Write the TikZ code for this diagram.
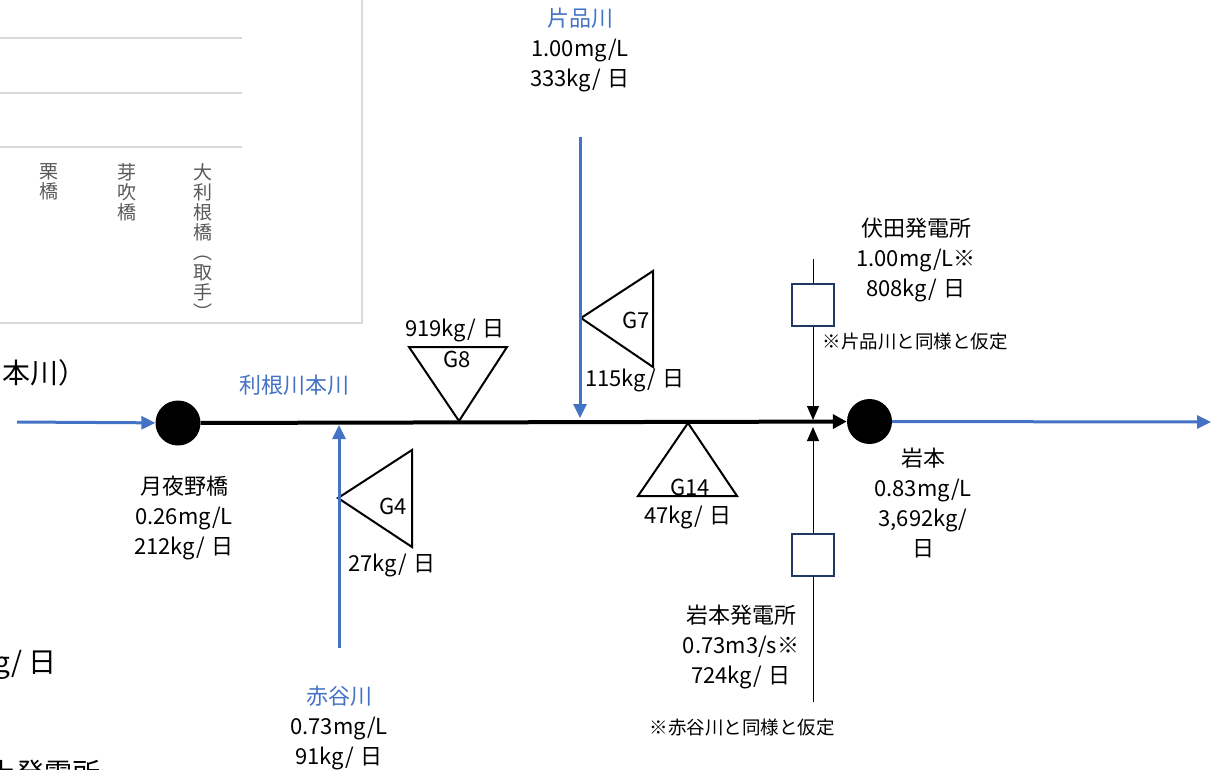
\documentclass[tikz,border=0pt]{standalone}
\usepackage{fontspec}
\setmainfont{Noto Sans CJK JP}
\usetikzlibrary{arrows.meta}
\definecolor{riverblue}{HTML}{4472C4}
\definecolor{boxnavy}{HTML}{1F3864}
\definecolor{tblgray}{HTML}{D9D9D9}
\definecolor{txtgray}{HTML}{595959}
\newcommand{\kgd}{kg/\hspace{0.3em}日}
\begin{document}
\begin{tikzpicture}[x=1pt,y=-1pt,
  lbl/.style={font=\fontsize{22}{30}\selectfont, align=center, inner sep=0pt},
  note/.style={font=\fontsize{18.5}{20}\selectfont, inner sep=0pt},
  big/.style={font=\fontsize{28}{30}\selectfont, inner sep=0pt},
  vtext/.style={font=\fontsize{19}{20}\selectfont, text=txtgray, align=center, inner sep=0pt, anchor=north},
  tblline/.style={draw=tblgray, line width=1.5pt},
  river/.style={draw=riverblue, line width=3pt, -{Triangle[length=14pt,width=13pt]}},
  mainline/.style={draw=black, line width=4pt, -{Triangle[length=14pt,width=14pt]}},
  thinarrow/.style={draw=black, line width=1pt, -{Triangle[length=14pt,width=12pt]}},
  thinline/.style={draw=black, line width=1pt},
  station/.style={circle, fill=black, minimum size=45pt, inner sep=0pt},
  plant/.style={draw=boxnavy, line width=2pt, fill=white, minimum size=42pt, inner sep=0pt},
  tri/.style={draw=black, line width=2pt}]
\useasboundingbox (0,0) rectangle (1222,769);

% table (partly visible)
\draw[tblline] (-10,-10) -- (362,-10) -- (362,323) -- (-10,323);
\draw[tblline] (-10,38) -- (242,38);
\draw[tblline] (-10,93) -- (242,93);
\draw[tblline] (-10,147) -- (242,147);
\node[vtext] (kurihashi) at (49,163) {栗\\橋};
\node[vtext] (mebuki) at (127,163) {芽\\吹\\橋};
\node[vtext] (ootone) at (203,163) {大\\利\\根\\橋\\︵\\取\\手\\︶};

% cut-off texts at left
\node[big, anchor=west] (honkawa) at (2,373) {本川）};
\node[big, anchor=west] (gday) at (-6,665) {g/\hspace{0.2em}日};
\node[big, anchor=west] (hatsuden) at (-12,773) {上発電所};

% triangles (sources)
\draw[tri] (409,347) -- (507,347) -- (459,421) -- cycle;
\draw[tri] (581,318) -- (653,271) -- (653,367) -- cycle;
\draw[tri] (338,498) -- (412,450) -- (412,547) -- cycle;
\draw[tri] (688,423) -- (737,496) -- (638,496) -- cycle;
\node[lbl] (g8) at (457,359) {G8};
\node[lbl] (g8v) at (455,330) {919\kgd};
\node[lbl] (g7) at (636,320) {G7};
\node[lbl] (g7v) at (635,380) {115\kgd};
\node[lbl] (g4) at (393,506) {G4};
\node[lbl] (g4v) at (392,565) {27\kgd};
\node[lbl] (g14) at (690,487) {G14};
\node[lbl] (g14v) at (688,517) {47\kgd};

% stations
\node[station] (tsukiyono) at (178,423) {};
\node[station] (iwamoto) at (869.5,421.5) {};

% main river
\coordinate (inL) at (17,422);
\coordinate (outR) at (1211,422);
\draw[river] (inL) -- (tsukiyono);
\draw[mainline] (tsukiyono) -- (iwamoto);
\draw[river] (iwamoto) -- (outR);
\node[lbl, text=riverblue] (tonelbl) at (294,385) {利根川本川};

% tributaries
\coordinate (katashinaTop) at (580,137);
\coordinate (katashinaEnd) at (580,418);
\draw[river] (katashinaTop) -- (katashinaEnd);
\coordinate (akayaBot) at (339,648);
\coordinate (akayaEnd) at (339,425);
\draw[river] (akayaBot) -- (akayaEnd);

% power plants
\coordinate (fushidaTop) at (813,259);
\node[plant] (fushidaBox) at (813,305) {};
\coordinate (fushidaEnd) at (813,420);
\draw[thinline] (fushidaTop) -- (fushidaBox);
\draw[thinarrow] (fushidaBox) -- (fushidaEnd);
\coordinate (iwaPBot) at (813,702);
\node[plant] (iwaPBox) at (813,555) {};
\coordinate (iwaPEnd) at (813,427);
\draw[thinline] (iwaPBot) -- (iwaPBox);
\draw[thinarrow] (iwaPBox) -- (iwaPEnd);

% labels
\node[lbl] (tsukiyonolbl) at (184,518) {月夜野橋\\0.26mg/L\\212\kgd};
\node[lbl] (iwamotolbl) at (923,503) {岩本\\0.83mg/L\\3,692kg/\\日};
\node[lbl] (katashinalbl) at (580,50) {\textcolor{riverblue}{片品川}\\1.00mg/L\\333\kgd};
\node[lbl] (akayalbl) at (339,728) {\textcolor{riverblue}{赤谷川}\\0.73mg/L\\91\kgd};
\node[lbl] (fushidalbl) at (916,260) {伏田発電所\\1.00mg/L※\\808\kgd};
\node[note] (fushidanote) at (915,342) {※片品川と同様と仮定};
\node[lbl] (iwaPlbl) at (741,647) {岩本発電所\\0.73m3/s※\\724\kgd};
\node[note] (iwaPnote) at (742,728) {※赤谷川と同様と仮定};
\end{tikzpicture}
\end{document}
